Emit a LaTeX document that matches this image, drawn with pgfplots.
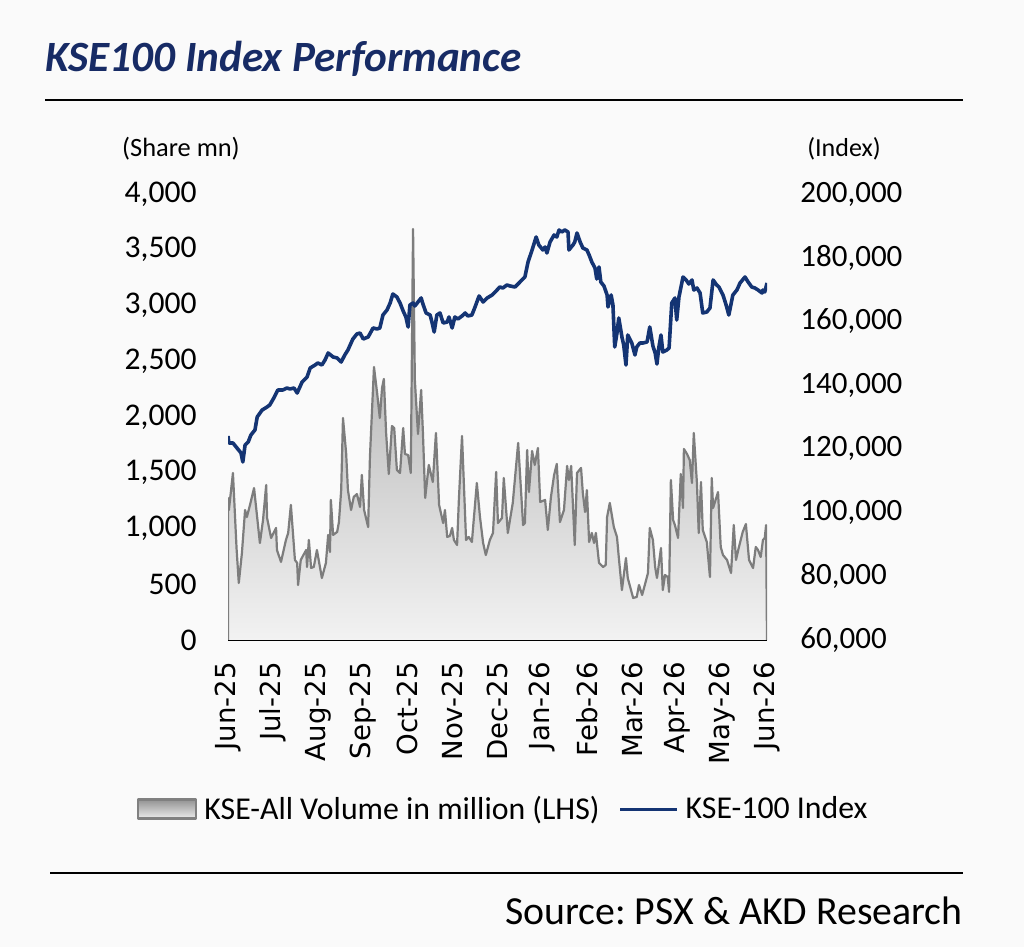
\documentclass[border=0pt]{standalone}
\usepackage{fontspec}
\setmainfont{Carlito}
\newfontfamily\dejavu{DejaVu Sans}
\usepackage{pgfplots}
\pgfplotsset{compat=1.18}
\definecolor{titleblue}{RGB}{23,43,101}
\definecolor{idxblue}{RGB}{20,52,115}
\definecolor{volgray}{RGB}{125,125,125}
\definecolor{bg}{RGB}{250,250,250}
\definecolor{areatop}{RGB}{160,160,160}
\definecolor{areabot}{RGB}{242,242,242}
\frenchspacing
\begin{document}
\begin{tikzpicture}
\useasboundingbox (0,0) rectangle (512pt,473.5pt);
\fill[bg] (0,0) rectangle (512pt,473.5pt);
\node[anchor=base west, inner sep=0pt, text=titleblue, font=\fontsize{21.6}{25}\selectfont\bfseries\itshape] at (22.5pt,437.5pt) {KSE100 Index Performance};
\draw[line width=0.8pt] (22.5pt,423.5pt) -- (481.5pt,423.5pt);
\node[anchor=base, inner sep=0pt, font=\fontsize{13.2}{16}\selectfont] at (90.5pt,395pt) {(Share mn)};
\node[anchor=base, inner sep=0pt, font=\fontsize{13}{16}\selectfont] at (422pt,395pt) {(Index)};
\draw[line width=0.8pt] (25pt,37pt) -- (481.5pt,37pt);
\node[anchor=base east, inner sep=0pt, font=\fontsize{19.9}{23}\selectfont] at (481.5pt,11pt) {Source: PSX \& AKD Research};

\begin{axis}[
  at={(114pt,153.5pt)}, anchor=south west,
  scale only axis, width=269.5pt, height=223pt,
  xmin=0, xmax=12, ymin=0, ymax=4000,
  axis x line*=bottom, axis y line*=left,
  y axis line style={draw=none},
  x axis line style={line width=1pt, black, -},
  xtick={0,...,12},
  xticklabels={Jun-25,Jul-25,Aug-25,Sep-25,Oct-25,Nov-25,Dec-25,Jan-26,Feb-26,Mar-26,Apr-26,May-26,Jun-26},
  xticklabel style={font=\dejavu\fontsize{13.8}{16}\selectfont, rotate=90, anchor=east, inner sep=0pt},
  xticklabel shift=11pt,
  ytick={0,500,...,4000},
  yticklabel style={font=\fontsize{15.8}{19}\selectfont, anchor=east, inner sep=0pt},
  yticklabel shift=15.5pt,
  major tick length=0pt,
  scaled y ticks=false,
  /pgf/number format/fixed,
  /pgf/number format/assume math mode=true,
  /pgf/number format/1000 sep={,},
  legend columns=2,
  legend style={at={(0.509,-0.379)}, anchor=center, draw=none, fill=none,
    font=\fontsize{15.9}{19}\selectfont, inner sep=0pt,
    nodes={inner sep=0pt},
    /tikz/every odd column/.append style={column sep=3.5pt},
    /tikz/every even column/.append style={column sep=9.5pt}},
]
\addplot[draw=volgray, line width=1.1pt, line join=round, top color=areatop, bottom color=areabot,
  legend image code/.code={\shade[top color=gray!85, bottom color=gray!15, draw=gray] (0pt,-4.75pt) rectangle (29pt,4.75pt);}]
coordinates {
(0,0) (0,1274) (0.02,1166) (0.11,1498) (0.19,825) (0.24,511) (0.31,780) (0.38,1166) (0.42,1103)
(0.49,1211) (0.58,1363) (0.62,1211) (0.71,870) (0.78,1076) (0.85,1390) (0.87,1094) (0.96,915)
(1.07,1005) (1.09,807) (1.18,700) (1.29,897) (1.34,960) (1.40,1211) (1.49,718) (1.54,691)
(1.56,493) (1.62,718) (1.74,807) (1.76,655) (1.80,897) (1.85,646) (1.91,655) (1.98,807)
(2.09,556) (2.18,691) (2.23,942) (2.27,789) (2.29,1256) (2.34,942) (2.43,969) (2.47,1058)
(2.52,1345) (2.56,1991) (2.63,1677) (2.67,1345) (2.74,1166) (2.80,1283) (2.87,1309) (2.94,1193)
(2.98,1480) (3.03,1166) (3.12,1013) (3.16,1641) (3.25,2449) (3.32,2215) (3.38,1991) (3.43,2260)
(3.47,2341) (3.52,1857) (3.58,1489) (3.65,1919) (3.70,1901) (3.76,1525) (3.83,1498) (3.90,1901)
(3.94,1668) (4.01,1659) (4.07,1498) (4.12,3686) (4.16,2332) (4.23,1848) (4.30,2242) (4.34,1857)
(4.39,1274) (4.47,1570) (4.56,1417) (4.63,1857) (4.70,1211) (4.79,1049) (4.83,1166) (4.88,924)
(4.94,933) (4.99,1005) (5.03,897) (5.10,852) (5.14,1256) (5.21,1830) (5.30,897) (5.36,924)
(5.43,879) (5.48,1121) (5.54,1408) (5.61,1103) (5.68,870) (5.74,762) (5.83,897) (5.90,960)
(5.97,1507) (6.01,1049) (6.10,1094) (6.14,1453) (6.23,960) (6.34,1229) (6.46,1767) (6.57,1031)
(6.61,1049) (6.66,1704) (6.70,1327) (6.77,1695) (6.83,1570) (6.90,1722) (6.95,1238) (7.06,1256)
(7.12,987) (7.19,1283) (7.26,1480) (7.32,1579) (7.39,1058) (7.48,1166) (7.55,1561) (7.59,1435)
(7.64,1561) (7.72,852) (7.77,1498) (7.86,1543) (7.90,1318) (7.95,1148) (7.99,1345) (8.04,879)
(8.10,960) (8.15,870) (8.19,960) (8.26,691) (8.35,655) (8.41,673) (8.44,1103) (8.50,1229)
(8.59,1013) (8.66,924) (8.70,744) (8.77,448) (8.86,735) (8.90,556) (9.02,377) (9.10,386)
(9.15,493) (9.22,404) (9.28,493) (9.35,601) (9.39,1005) (9.46,897) (9.51,655) (9.55,556)
(9.57,610) (9.64,825) (9.68,448) (9.73,583) (9.79,565) (9.82,431) (9.86,1435) (9.91,1076)
(9.95,1031) (10.02,915) (10.08,1489) (10.13,1184) (10.15,1713) (10.22,1668) (10.28,1614) (10.33,1408)
(10.37,1857) (10.44,1408) (10.48,960) (10.53,1417) (10.57,987) (10.66,879) (10.73,565) (10.77,1453)
(10.80,1184) (10.91,1327) (10.97,834) (11.02,762) (11.11,718) (11.20,601) (11.26,1031) (11.31,718)
(11.37,825) (11.46,969) (11.53,1040) (11.60,718) (11.69,646) (11.75,834) (11.80,807) (11.86,744)
(11.91,897) (11.95,915) (11.98,1031) (12,0)
};
\addlegendentry{KSE-All Volume in million (LHS)}
\addlegendimage{idxblue, line width=1.5pt, legend image code/.code={\draw[idxblue, line width=1.5pt] (0pt,0pt) -- (28.5pt,0pt);}}
\addlegendentry{KSE-100 Index}
\end{axis}

\begin{axis}[
  at={(114pt,153.5pt)}, anchor=south west,
  scale only axis, width=269.5pt, height=223pt,
  xmin=0, xmax=12, ymin=60000, ymax=200000,
  axis x line=none, axis y line*=right,
  y axis line style={draw=none},
  ytick={60000,80000,...,200000},
  yticklabel style={font=\fontsize{15.5}{19}\selectfont, anchor=west, inner sep=0pt},
  yticklabel shift=16.5pt,
  major tick length=0pt,
  scaled y ticks=false,
  /pgf/number format/fixed,
  /pgf/number format/assume math mode=true,
  /pgf/number format/1000 sep={,},
]
\addplot[idxblue, line width=1.8pt, line join=round] coordinates {
(0,124036) (0.02,121838) (0.11,121838) (0.20,120269) (0.29,118699) (0.33,115874) (0.38,121211)
(0.45,122152) (0.51,124350) (0.60,125919) (0.65,130000) (0.76,132197) (0.87,133139) (0.93,133767)
(1.02,135964) (1.11,138475) (1.22,138475) (1.31,139103) (1.38,138789) (1.47,139103) (1.54,137533)
(1.65,140986) (1.76,142556) (1.83,145381) (1.94,146323) (2.00,146950) (2.09,146323) (2.16,147892)
(2.23,150089) (2.34,148834) (2.43,148520) (2.52,147264) (2.60,149462) (2.67,151031) (2.78,154484)
(2.87,156053) (2.94,156367) (3.01,154484) (3.12,155112) (3.23,157937) (3.32,157623) (3.38,157937)
(3.45,162018) (3.54,163587) (3.61,165784) (3.67,168609) (3.76,167668) (3.83,165784) (3.90,163273)
(3.96,161390) (4.01,158251) (4.05,165157) (4.12,165784) (4.16,164843) (4.23,166098) (4.30,167354)
(4.34,165470) (4.41,162645) (4.50,162018) (4.54,159820) (4.59,156681) (4.65,162018) (4.72,162645)
(4.79,159506) (4.88,159820) (4.92,161390) (4.99,157937) (5.05,161390) (5.12,160762) (5.21,161704)
(5.28,162645) (5.34,161704) (5.43,162018) (5.50,164529) (5.59,167982) (5.68,166098) (5.77,167354)
(5.88,168296) (5.99,169865) (6.05,170807) (6.12,170493) (6.21,171435) (6.28,171121) (6.39,170807)
(6.50,172376) (6.61,173946) (6.68,178654) (6.77,182421) (6.86,186502) (6.92,183991) (7.01,182421)
(7.06,183363) (7.10,181479) (7.17,184932) (7.26,187130) (7.32,186502) (7.37,188699) (7.43,188071)
(7.50,188699) (7.57,188071) (7.59,182421) (7.68,183991) (7.72,184932) (7.77,187757) (7.84,184932)
(7.90,183049) (7.99,182421) (8.04,180852) (8.10,178654) (8.17,176771) (8.21,173318) (8.26,177085)
(8.30,172376) (8.37,171121) (8.44,168296) (8.46,164529) (8.53,168296) (8.57,165157) (8.61,151973)
(8.66,156367) (8.70,161076) (8.77,155112) (8.81,152601) (8.86,146323) (8.90,155740) (8.99,153228)
(9.06,149462) (9.10,151973) (9.17,153228) (9.24,153228) (9.33,153542) (9.39,158251) (9.46,152287)
(9.51,150089) (9.55,146636) (9.59,151659) (9.64,155740) (9.68,150403) (9.77,151031) (9.82,151659)
(9.88,165784) (9.95,167354) (9.99,160448) (10.04,167668) (10.13,173946) (10.20,173004) (10.26,171748)
(10.33,173004) (10.37,169865) (10.44,170493) (10.51,168923) (10.57,162645) (10.66,162959) (10.73,164215)
(10.80,173004) (10.88,171435) (10.93,170807) (11.02,168296) (11.09,165157) (11.15,162018) (11.24,168296)
(11.33,169865) (11.40,172062) (11.51,173946) (11.58,172376) (11.66,170807) (11.73,170493) (11.80,169865)
(11.89,168923) (11.91,169865) (11.95,169237) (12.00,172062)
};
\end{axis}
\end{tikzpicture}
\end{document}
